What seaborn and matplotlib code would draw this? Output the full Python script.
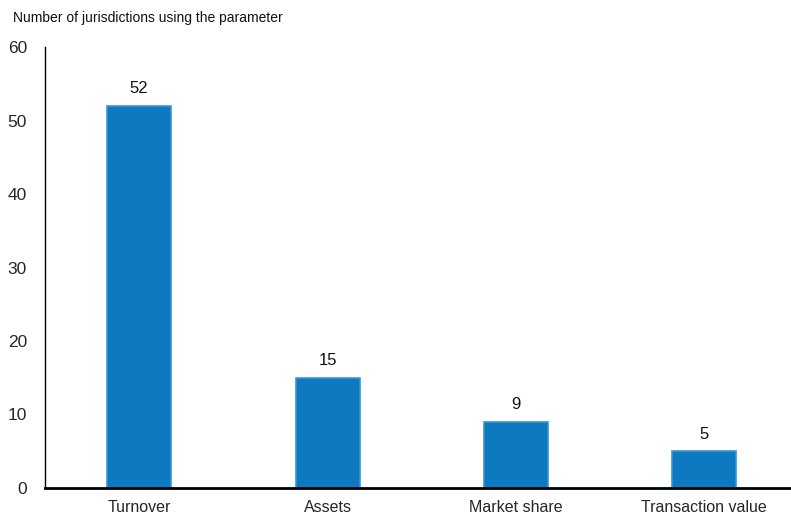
import matplotlib
matplotlib.use("Agg")
import matplotlib.pyplot as plt
import seaborn as sns
import pandas as pd
from matplotlib import font_manager

categories = ["Turnover", "Assets", "Market share", "Transaction value"]
values = [52, 15, 9, 5]
yticks = [0, 10, 20, 30, 40, 50, 60]
title = "Number of jurisdictions using the parameter"

sns.set_style("white")
names = {f.name for f in font_manager.fontManager.ttflist}
fam = "Liberation Sans Narrow" if "Liberation Sans Narrow" in names else "Liberation Sans"
plt.rcParams["font.family"] = [fam, "DejaVu Sans"]

df = pd.DataFrame({"cat": categories, "val": values})

fig = plt.figure(figsize=(7.91, 5.23), dpi=100)
ax = fig.add_axes([45/791, 35/523, 1 - 45/791, 441/523])
sns.barplot(data=df, x="cat", y="val", ax=ax, color="#0c79c1", width=0.34,
            edgecolor="#3b93d3", linewidth=1.2, saturation=1)
ax.set_ylim(0, 60)
ax.set_xlim(-0.5, 3.46)
ax.set_yticks(yticks)
ax.set_yticklabels([str(t) for t in yticks], fontsize=12.5)
ax.tick_params(axis="y", length=0, pad=13)
ax.tick_params(axis="x", length=0, pad=9, labelsize=11.5)
ax.set_xlabel("")
ax.set_ylabel("")
for s in ["top", "right"]:
    ax.spines[s].set_visible(False)
ax.spines["left"].set_linewidth(1.0)
ax.spines["left"].set_color("black")
ax.spines["bottom"].set_linewidth(2.0)
ax.spines["bottom"].set_color("black")
for i, v in enumerate(values):
    ax.text(i, v + 1.3, str(v), ha="center", va="bottom", fontsize=12, color="#111111")
fig.text(13/791, 1 - 18/523, title, ha="left", va="center", fontsize=10, color="#111111")
fig.savefig("out.png", dpi=100)
